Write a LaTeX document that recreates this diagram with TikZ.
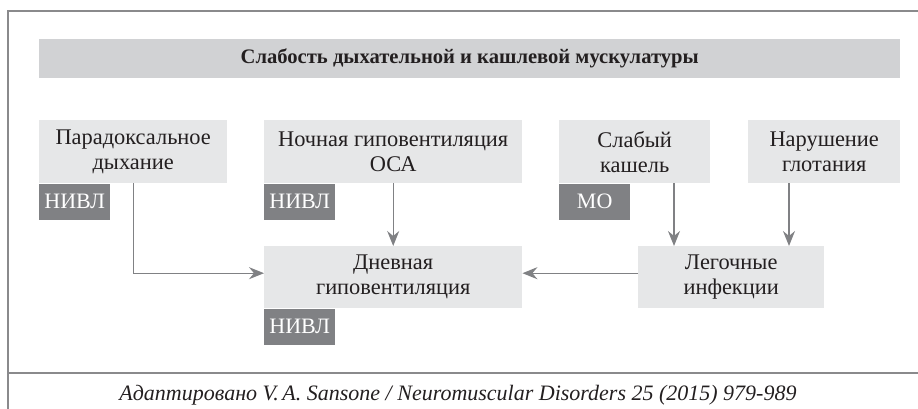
\documentclass[tikz,border=0pt]{standalone}
\usepackage{fontspec}
\setmainfont{Liberation Serif}
\usetikzlibrary{arrows.meta}
\definecolor{hdr}{HTML}{D1D2D4}
\definecolor{boxc}{HTML}{E6E7E8}
\definecolor{tagc}{HTML}{808184}
\definecolor{linec}{HTML}{8A8A8C}
\definecolor{txt}{HTML}{231F20}
\tikzset{
  box/.style={fill=boxc, inner sep=0pt, anchor=north west, align=center, text=txt,
    font=\fontsize{22.4}{25}\selectfont},
  tag/.style={fill=tagc, inner sep=0pt, anchor=north west, text=white,
    minimum width=71pt, minimum height=36pt, font=\fontsize{22}{24}\selectfont},
  arr/.style={draw=tagc, line width=1.4pt, -{Stealth[length=15pt, width=12pt, inset=5pt]}},
  frame/.style={draw=linec, line width=1.4pt},
}
\begin{document}
\begin{tikzpicture}[x=1pt,y=-1pt]
\useasboundingbox (0,0) rectangle (918,409);
% frame
\coordinate (ftr) at (918,11);
\coordinate (ftl) at (8,11);
\coordinate (fbl) at (8,409);
\coordinate (fml) at (8,373);
\coordinate (fmr) at (918,373);
\draw[frame] (ftr) -- (ftl) -- (fbl);
\draw[frame] (fml) -- (fmr);
% header
\node[box, fill=hdr, minimum width=861pt, minimum height=39pt,
  font=\bfseries\fontsize{20.6}{23}\selectfont] (hd) at (39,39)
  {Слабость дыхательной и кашлевой мускулатуры};
% row 1
\node[box, minimum width=188pt, minimum height=63pt] (b1) at (39,120)
  {Парадоксальное\\дыхание};
\node[box, minimum width=258pt, minimum height=63pt] (b2) at (264,120)
  {Ночная гиповентиляция\\ОСА};
\node[box, minimum width=151pt, minimum height=63pt] (b3) at (559,120)
  {Слабый\\кашель};
\node[box, minimum width=152pt, minimum height=63pt] (b4) at (748,120)
  {Нарушение\\глотания};
% tags
\node[tag] (t1) at (b1.south west) {НИВЛ};
\node[tag] (t2) at (b2.south west) {НИВЛ};
\node[tag] (t3) at (b3.south west) {МО};
% row 2
\node[box, minimum width=258pt, minimum height=62pt] (dn) at (264,246)
  {Дневная\\гиповентиляция};
\node[box, minimum width=186pt, minimum height=62pt] (lg) at (638,246)
  {Легочные\\инфекции};
\node[tag] (t4) at (dn.south west) {НИВЛ};
% connectors
\draw[arr] (b1.south) |- ([yshift=4pt]dn.west);
\draw[arr] (b2.south) -- (dn.north);
\draw[arr] (b3.south -| 674,0) -- (lg.north -| 674,0);
\draw[arr] (b4.south -| 789,0) -- (lg.north -| 789,0);
\draw[arr] ([yshift=4pt]lg.west) -- ([yshift=4pt]dn.east);
% caption
\node[text=txt, font=\itshape\fontsize{22}{24}\selectfont, inner sep=0pt] (cap) at (458,395)
  {Адаптировано V.\,A. Sansone / Neuromuscular Disorders 25 (2015) 979-989};
\end{tikzpicture}
\end{document}
